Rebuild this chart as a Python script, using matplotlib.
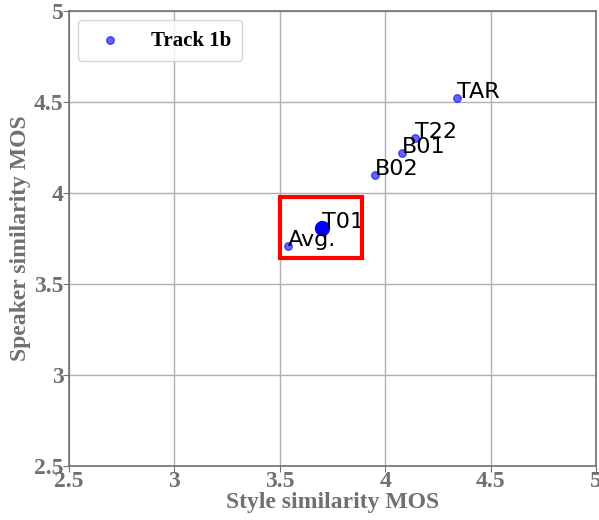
import matplotlib
matplotlib.use('Agg')
import matplotlib.pyplot as plt
from matplotlib.patches import Rectangle

# data
names = ['TAR', 'T22', 'B01', 'B02', 'Avg.']
style_mos = [4.34, 4.14, 4.08, 3.95, 3.54]
speaker_mos = [4.52, 4.30, 4.22, 4.10, 3.71]
t01_name = 'T01'
t01_style = 3.70
t01_speaker = 3.81
ticks = [2.5, 3, 3.5, 4, 4.5, 5]
tick_labels = ['2.5', '3', '3.5', '4', '4.5', '5']

gray = '#707070'
serif = 'Liberation Serif'

fig = plt.figure(figsize=(5.99, 5.2), dpi=100)
ax = fig.add_axes([0.115, 0.104, 0.88, 0.875])

ax.scatter(style_mos, speaker_mos, s=30, color='blue', alpha=0.6, label='Track 1b', zorder=3)
ax.scatter([t01_style], [t01_speaker], s=100, color='blue', zorder=4)
for n, x, y in zip(names, style_mos, speaker_mos):
    ax.annotate(n, (x, y), fontsize=16, zorder=5)
ax.annotate(t01_name, (t01_style, t01_speaker), fontsize=16, zorder=5)

ax.add_patch(Rectangle((3.5, 3.64), 0.39, 0.34, fill=False, edgecolor='red', linewidth=3, zorder=6))

ax.set_xlim(2.5, 5)
ax.set_ylim(2.5, 5)
ax.set_xticks(ticks)
ax.set_yticks(ticks)
ax.set_xticklabels(tick_labels, family=serif, fontweight='bold', color=gray, fontsize=17)
ax.set_yticklabels(tick_labels, family=serif, fontweight='bold', color=gray, fontsize=17)
ax.tick_params(colors=gray, length=4, pad=0)
ax.grid(True, color='#b0b0b0', linewidth=1)
ax.set_axisbelow(True)
for sp in ax.spines.values():
    sp.set_color(gray)
    sp.set_linewidth(1.2)

ax.set_xlabel('Style similarity MOS', family=serif, fontweight='bold', color=gray, fontsize=17, labelpad=0)
ax.set_ylabel('Speaker similarity MOS', family=serif, fontweight='bold', color=gray, fontsize=17, labelpad=2)

ax.legend(loc='upper left', prop={'family': serif, 'weight': 'bold', 'size': 15},
          borderpad=0.5, handletextpad=1.0, borderaxespad=0.45)

fig.savefig('out.png', dpi=100)
